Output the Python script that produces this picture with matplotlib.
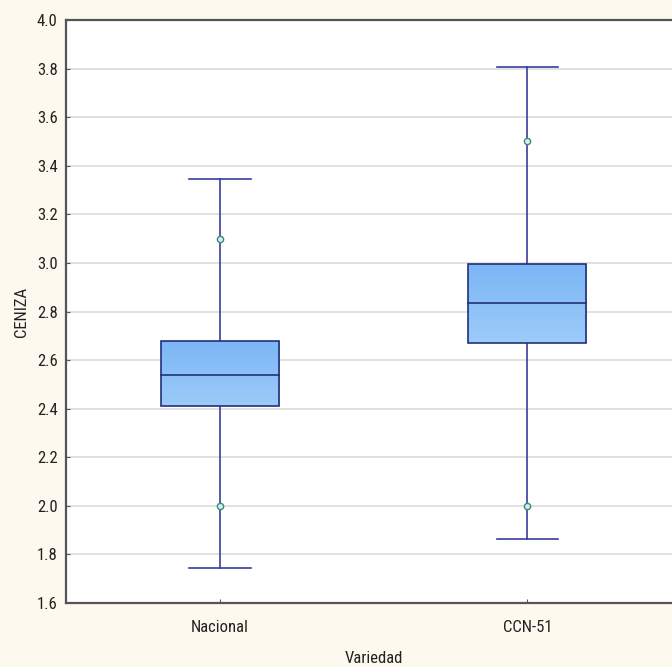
import matplotlib
matplotlib.use("Agg")
import matplotlib.pyplot as plt
import numpy as np
from matplotlib.patches import Rectangle
from matplotlib import font_manager as fm

categories = ["Nacional", "CCN-51"]
whisker_low = [1.745, 1.865]
q1 = [2.41, 2.67]
median = [2.54, 2.835]
q3 = [2.678, 2.995]
whisker_high = [3.345, 3.805]
points = [[3.10, 2.00], [3.50, 2.00]]
yticks = [1.6, 1.8, 2.0, 2.2, 2.4, 2.6, 2.8, 3.0, 3.2, 3.4, 3.6, 3.8, 4.0]

names = {f.name for f in fm.fontManager.ttflist}
cond = [n for n in ["Liberation Sans Narrow", "DejaVu Sans Condensed", "Roboto Condensed"] if n in names]
plt.rcParams['font.family'] = cond + ['DejaVu Sans']
stretch = "condensed"

bg = "#fdf9ee"
fig = plt.figure(figsize=(6.72, 6.67), dpi=100, facecolor=bg)
ax = fig.add_axes([66/672, 64/667, 615/672, 583/667])
ax.set_facecolor("white")

edge = "#23307a"
wcol = "#3a3d9e"
box_w = 0.385
cap_w = 0.2

grad = np.linspace(0, 1, 256).reshape(-1, 1)
cmap = matplotlib.colors.LinearSegmentedColormap.from_list("g", ["#9dcbf9", "#7bb6f6"])

for i, cat in enumerate(categories):
    x = i + 1
    ax.plot([x, x], [q3[i], whisker_high[i]], color=wcol, lw=1.2, zorder=3)
    ax.plot([x, x], [whisker_low[i], q1[i]], color=wcol, lw=1.2, zorder=3)
    ax.plot([x - cap_w/2, x + cap_w/2], [whisker_high[i]]*2, color=wcol, lw=1.2, zorder=3)
    ax.plot([x - cap_w/2, x + cap_w/2], [whisker_low[i]]*2, color=wcol, lw=1.2, zorder=3)
    rect = Rectangle((x - box_w/2, q1[i]), box_w, q3[i] - q1[i], facecolor="none",
                     edgecolor=edge, lw=1.2, zorder=5)
    ax.add_patch(rect)
    im = ax.imshow(grad, cmap=cmap, aspect="auto", origin="lower",
                   extent=[x - box_w/2, x + box_w/2, q1[i], q3[i]], zorder=4)
    im.set_clip_path(rect)
    ax.plot([x - box_w/2, x + box_w/2], [median[i]]*2, color=edge, lw=1.2, zorder=6)
    ax.plot([x]*len(points[i]), points[i], linestyle="none", marker="o", ms=4.5,
            mfc="#d8efe8", mec="#3b8a82", mew=1.0, zorder=7)

ax.set_xlim(0.5, 2.5)
ax.set_ylim(1.6, 4.0)
ax.set_yticks(yticks)
ax.set_yticklabels([f"{v:.1f}" for v in yticks], fontstretch=stretch)
ax.set_xticks([1, 2])
ax.set_xticklabels(categories, fontstretch=stretch)
ax.yaxis.grid(True, color="#dcdcdc", lw=1.2)
ax.set_axisbelow(True)
ax.tick_params(direction="in", length=3, color="#555555", labelsize=12, labelcolor="#222222")
ax.tick_params(axis="x", pad=12)
ax.tick_params(axis="y", pad=6)
for s in ["left", "top", "bottom", "right"]:
    ax.spines[s].set_color("#555555")
    ax.spines[s].set_linewidth(1.6)
ax.set_xlabel("Variedad", fontsize=12, color="#222222", labelpad=12, fontstretch=stretch)
ax.set_ylabel("CENIZA", fontsize=12, color="#222222", labelpad=6, fontstretch=stretch)

fig.savefig("out.png", dpi=100, facecolor=bg)
